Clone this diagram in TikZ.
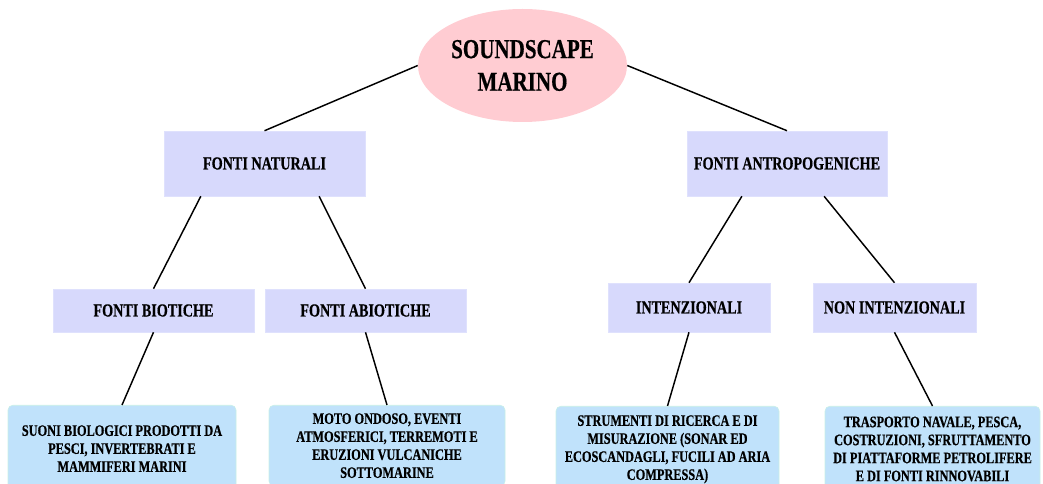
\documentclass[tikz,border=0pt]{standalone}
\usepackage{fontspec}
\setmainfont{Liberation Serif}[FakeStretch=0.77,BoldFeatures={FakeBold=0.5}]
\usetikzlibrary{shapes.geometric,calc}
\definecolor{rootpink}{HTML}{FFCCD2}
\definecolor{midlav}{HTML}{D7D9FC}
\definecolor{leafblue}{HTML}{C0E2FB}
\tikzset{
  rootnode/.style={ellipse, fill=rootpink, minimum width=156.75pt, minimum height=84.75pt, inner sep=0pt, align=center, font=\bfseries\fontsize{20.5}{24.5}\selectfont},
  midbox/.style={rectangle, fill=midlav, draw=midlav!80!white, line width=0.4pt, inner sep=0pt, font=\bfseries\fontsize{13.8}{16}\selectfont},
  leafbox/.style={rectangle, rounded corners=3.5pt, fill=leafblue, draw=leafblue!85!green!60!white, line width=0.4pt, anchor=north, inner xsep=2pt, align=center, font=\bfseries\fontsize{12}{13.5}\selectfont},
  link/.style={line width=1.1pt, black}
}
\begin{document}
\begin{tikzpicture}[x=0.75pt,y=-0.75pt]
\useasboundingbox (0,0) rectangle (1043,484);
\clip (0,0) rectangle (1043,484);
% root
\node[rootnode] (root) at (522.5,65.5) {SOUNDSCAPE\\MARINO};
% level 1
\node[midbox, minimum width=150.75pt, minimum height=48.75pt] (nat) at (264.5,163.5) {FONTI NATURALI};
\node[midbox, minimum width=150pt, minimum height=48.75pt] (ant) at (787,163.5) {FONTI ANTROPOGENICHE};
% level 2
\node[midbox, minimum width=150.75pt, minimum height=32.25pt] (bio) at (153.5,310.5) {FONTI BIOTICHE};
\node[midbox, minimum width=150.75pt, minimum height=32.25pt] (abio) at (365.5,310.5) {FONTI ABIOTICHE};
\node[midbox, minimum width=121.5pt, minimum height=36.75pt] (int) at (689,307.5) {INTENZIONALI};
\node[midbox, minimum width=122.25pt, minimum height=36.75pt] (nonint) at (894.5,307.5) {NON INTENZIONALI};
% leaves
\node[leafbox, minimum width=171pt, inner ysep=15pt] (l1) at (122,405) {SUONI BIOLOGICI PRODOTTI DA\\PESCI, INVERTEBRATI E\\MAMMIFERI MARINI};
\node[leafbox, minimum width=177pt, inner ysep=6pt] (l2) at (387,405) {MOTO ONDOSO, EVENTI\\ATMOSFERICI, TERREMOTI E\\ERUZIONI VULCANICHE\\SOTTOMARINE};
\node[leafbox, minimum width=167.25pt, inner ysep=6.75pt] (l3) at (667.5,406) {STRUMENTI DI RICERCA E DI\\MISURAZIONE (SONAR ED\\ECOSCANDAGLI, FUCILI AD ARIA\\COMPRESSA)};
\node[leafbox, minimum width=161.25pt, inner ysep=7.75pt] (l4) at (932.5,406) {TRASPORTO NAVALE, PESCA,\\COSTRUZIONI, SFRUTTAMENTO\\DI PIATTAFORME PETROLIFERE\\E DI FONTI RINNOVABILI};
% connectors
\draw[link] (root.west) -- (nat.north);
\draw[link] (root.east) -- (ant.north);
\draw[link] ($(nat.south west)!0.184!(nat.south east)$) -- (bio.north);
\draw[link] ($(nat.south west)!0.771!(nat.south east)$) -- (abio.north);
\draw[link] ($(ant.south west)!0.275!(ant.south east)$) -- (int.north);
\draw[link] ($(ant.south west)!0.685!(ant.south east)$) -- (nonint.north);
\draw[link] (bio.south) -- (l1.north);
\draw[link] (abio.south) -- (l2.north);
\draw[link] (int.south) -- (l3.north);
\draw[link] (nonint.south) -- (l4.north);
\end{tikzpicture}
\end{document}
